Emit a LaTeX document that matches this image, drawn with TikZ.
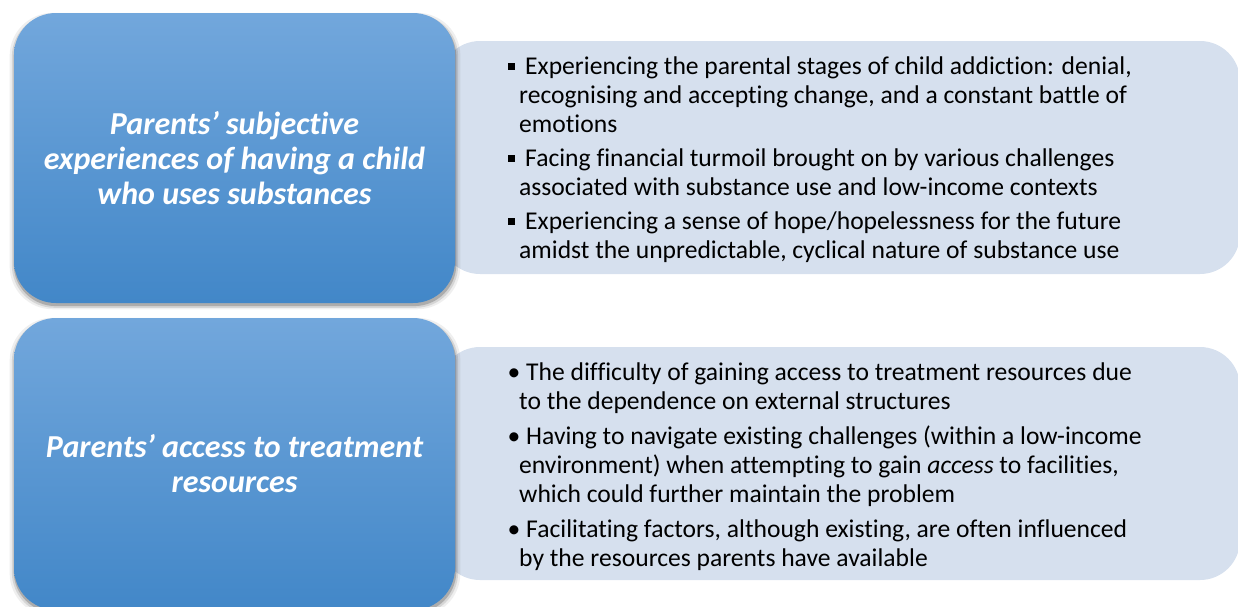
\documentclass[tikz,border=0pt]{standalone}
\usepackage{fontspec}
\setmainfont{Carlito}[Ligatures=NoCommon]
\usetikzlibrary{shadows}
\definecolor{thmtop}{RGB}{114,167,220}
\definecolor{thmbot}{RGB}{66,135,200}
\definecolor{thmlight}{RGB}{214,224,238}
\newcommand{\sqbul}{\hspace*{-11pt}\raisebox{5pt}{\rule{7pt}{7pt}}\hspace{10pt}}
\newcommand{\rdbul}{\hspace*{-11.5pt}\textbullet\ }

\begin{document}
\begin{tikzpicture}[x=1pt,y=-1pt,
  fuzz/.style={drop shadow={shadow xshift=.5pt,shadow yshift=-2.5pt,shadow scale=1.004,opacity=.25,fill=black!80},
    drop shadow={shadow xshift=.5pt,shadow yshift=-3pt,shadow scale=1.012,opacity=.14,fill=black!80},
    drop shadow={shadow xshift=.5pt,shadow yshift=-3pt,shadow scale=1.022,opacity=.08,fill=black!80}},
  theme/.style={rounded corners=42pt,minimum width=441pt,inner sep=0pt,
    top color=thmtop,bottom color=thmbot,text=white,align=center,
    font=\fontsize{32}{35}\selectfont\bfseries\itshape,fuzz},
  panel/.style={fill=thmlight,rounded corners=40pt,inner sep=0pt,minimum width=800pt},
  items/.style={anchor=north west,inner sep=0pt,align=left,
    font=\fontsize{25.6}{29}\selectfont}]
\useasboundingbox (0,0) rectangle (1238,606);
% Light panels behind
\node[panel,minimum height=233pt] (panelA) at (840,157.5) {};
\node[panel,minimum height=233pt] (panelB) at (840,463.5) {};
% Blue theme boxes
\node[theme,minimum height=290pt] (themeA) at (234.5,158)
  {Parents’ subjective\\experiences of having a child\\who uses substances};
\node[theme,minimum height=292pt] (themeB) at (234.5,464)
  {Parents’ access to treatment\\resources};
% Sub-themes
\node[items] (itemsA) at (519,57) {\sqbul Experiencing the parental stages of child addiction: denial,\\
  recognising and accepting change, and a constant battle of\\
  emotions\\[5pt]
  \sqbul Facing financial turmoil brought on by various challenges\\
  associated with substance use and low-income contexts\\[5pt]
  \sqbul Experiencing a sense of hope/hopelessness for the future\\
  amidst the unpredictable, cyclical nature of substance use};
\node[items] (itemsB) at (519,363) {\rdbul The difficulty of gaining access to treatment resources due\\
  to the dependence on external structures\\[6pt]
  \rdbul Having to navigate existing challenges (within a low-income\\
  environment) when attempting to gain \textit{access} to facilities,\\
  which could further maintain the problem\\[6pt]
  \rdbul Facilitating factors, although existing, are often influenced\\
  by the resources parents have available};
\end{tikzpicture}
\end{document}
